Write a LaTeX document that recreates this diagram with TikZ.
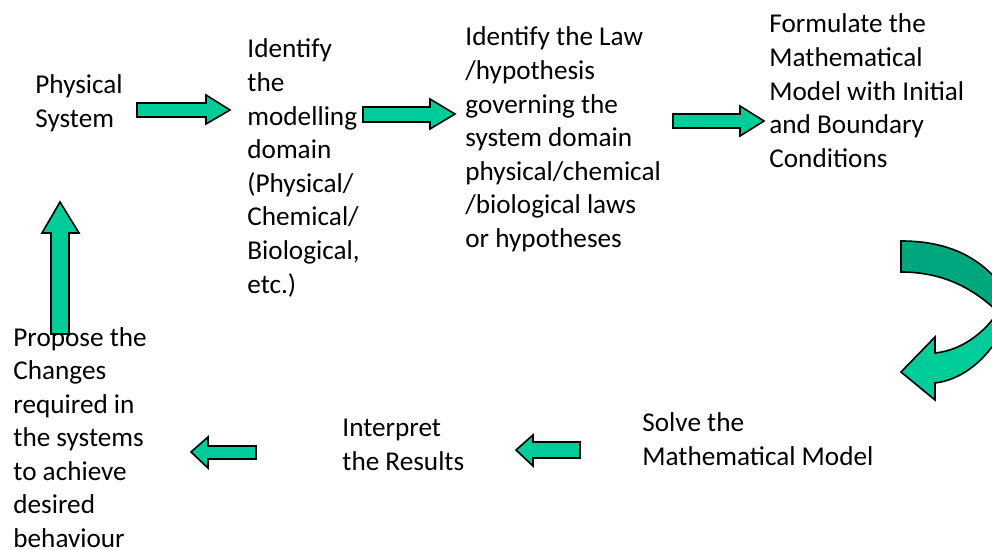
\documentclass[tikz,border=0pt]{standalone}
\usepackage{fontspec}
\setmainfont{Carlito}
\begin{document}
\begin{tikzpicture}[x=0.5pt,y=-0.5pt,font=\fontsize{13.6}{16.8}\selectfont,txt/.style={anchor=base west,align=left,inner sep=0pt},blk/.style={draw=black,line width=.8pt,line join=miter}]
\definecolor{arw}{HTML}{00CC99}\definecolor{arwdk}{HTML}{00A67E}
\useasboundingbox (0,0) rectangle (992,550);
% the seven steps (placed at the baseline of their last line)
\node[txt] (phys) at (35,127.6) {Physical\\System};
\node[txt] (domain) at (247,293.2) {Identify\\the\\modelling\\domain\\(Physical/\\Chemical/\\Biological,\\etc.)};
\node[txt] (law) at (465,247.6) {Identify the Law\\/hypothesis\\governing the\\system domain\\physical/chemical\\/biological laws\\or hypotheses};
\node[txt] (model) at (769,167.4) {Formulate the\\Mathematical\\Model with Initial\\and Boundary\\Conditions};
\node[txt] (solve) at (642,465.6) {Solve the\\Mathematical Model};
\node[txt] (interp) at (342,470.6) {Interpret\\the Results};
\node[txt] (propose) at (13,547.6) {Propose the\\Changes\\required in\\the systems\\to achieve\\desired\\behaviour};
% block arrows
\foreach \xa/\xb/\xc/\ya/\yb/\yc/\yd/\ym in {137/206/230/103/117/95/124/110,363/430/455/107/122/99/129/114,673/740/764/114/128/106/136/121,580/533/516/442/458/435/466/450,256/208/191/446/459/437/468/452}{\draw[blk,fill=arw] (\xa,\ya)--(\xb,\ya)--(\xb,\yc)--(\xc,\ym)--(\xb,\yd)--(\xb,\yb)--(\xa,\yb)--cycle;}
\draw[blk,fill=arw] (51,334)--(51,233)--(42,233)--(60,202)--(79,233)--(69,233)--(69,334)--cycle;
% curved arrow, cut by the right edge
\begin{scope}
\clip (0,0) rectangle (992,550);
\draw[blk,fill=arwdk] (901,241) .. controls (945,241) and (980,255) .. (1005,290) -- (1005,315) -- (998,312) .. controls (975,290) and (945,272) .. (901,272) -- cycle;
\draw[blk,fill=arw] (1008,318) .. controls (992,358) and (962,380) .. (935,383) -- (935,400) -- (901,372) -- (935,337) -- (935,353) .. controls (965,350) and (990,328) .. (1002,305) -- (1010,305) -- cycle;
\end{scope}
\end{tikzpicture}
\end{document}
